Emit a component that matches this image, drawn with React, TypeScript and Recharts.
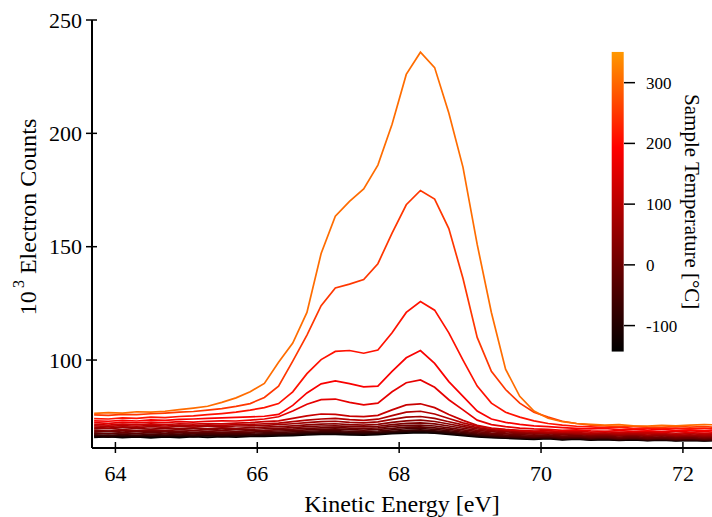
import React from "react";
import { LineChart, Line, XAxis, YAxis, BarChart, Bar } from "recharts";

const FONT = '"Liberation Serif", "DejaVu Serif", serif';

// kinetic energy grid [eV]
const energy = [
  63.7, 63.9, 64.1, 64.3, 64.5, 64.7, 64.9, 65.1, 65.3, 65.5, 65.7, 65.9, 66.1, 66.3, 66.5,
  66.7, 66.9, 67.1, 67.3, 67.5, 67.7, 67.9, 68.1, 68.3, 68.5, 68.7, 68.9, 69.1, 69.3, 69.5,
  69.7, 69.9, 70.1, 70.3, 70.5, 70.7, 70.9, 71.1, 71.3, 71.5, 71.7, 71.9, 72.1, 72.3, 72.5,
];

// 10^3 electron counts, one array per sample temperature
const counts305 = [
  76.5, 76.8, 76.6, 77.2, 77.0, 77.4, 78.1, 78.8, 79.6, 81.3, 83.3, 86.0, 89.7, 99.0, 107.5,
  121.0, 147.0, 163.5, 170.0, 175.5, 186.0, 204.0, 226.0, 235.8, 229.0, 209.0, 185.0, 151.0, 121.0, 96.0,
  84.0, 77.5, 74.3, 72.8, 72.0, 71.6, 71.3, 71.5, 71.0, 70.9, 71.2, 71.0, 71.3, 71.5, 71.4,
];
const counts250 = [
  75.8, 75.6, 76.0, 75.9, 76.3, 76.6, 77.0, 77.3, 77.9, 78.6, 79.6, 80.8, 83.5, 88.5, 99.5,
  111.0, 124.0, 131.8, 133.5, 135.5, 142.5, 156.0, 168.5, 174.8, 171.0, 158.0, 136.0, 110.0, 95.0, 87.0,
  81.0, 77.0, 74.8, 73.0, 72.0, 71.3, 70.9, 70.6, 70.9, 70.5, 70.3, 70.7, 70.4, 70.6, 70.2,
];
const counts210 = [
  74.2, 74.0, 74.5, 74.3, 74.8, 74.6, 75.1, 75.4, 75.9, 76.4, 77.0, 77.9, 79.0, 80.8, 86.0,
  94.0, 100.2, 103.8, 104.2, 103.0, 104.4, 112.0, 121.0, 125.8, 122.0, 112.0, 100.0, 88.5, 81.0, 77.0,
  74.8, 73.2, 72.0, 71.3, 70.8, 70.5, 70.2, 70.4, 69.9, 70.1, 69.8, 70.0, 69.6, 69.9, 69.5,
];
const counts185 = [
  73.2, 73.0, 73.4, 73.1, 73.6, 73.4, 73.8, 74.0, 74.3, 74.5, 74.7, 74.9, 75.2, 76.0, 80.0,
  85.5, 89.5, 90.8, 89.6, 88.2, 88.5, 95.0, 101.0, 104.2, 98.5, 90.5, 84.0, 77.5, 74.0, 72.5,
  71.6, 71.0, 70.6, 70.2, 69.9, 69.6, 69.8, 69.3, 69.5, 69.1, 69.4, 69.0, 69.2, 68.8, 69.1,
];
const counts160 = [
  72.4, 72.1, 72.5, 72.3, 72.6, 72.4, 72.8, 72.6, 73.0, 73.2, 73.1, 73.5, 74.0, 75.0, 77.5,
  80.5, 82.5, 82.8, 81.3, 80.2, 81.0, 86.0, 90.0, 91.2, 88.0, 82.5, 78.0, 73.5, 71.5, 70.6,
  70.0, 69.6, 69.4, 69.0, 69.2, 68.8, 68.6, 68.9, 68.5, 68.7, 68.3, 68.6, 68.2, 68.4, 68.1,
];
const counts120 = [
  71.6, 71.3, 71.7, 71.4, 71.8, 71.5, 71.9, 71.7, 72.0, 71.8, 72.2, 72.4, 72.8, 73.2, 74.3,
  75.4, 76.2, 76.0, 75.3, 75.0, 75.6, 78.0, 80.2, 80.7, 79.0, 76.0, 73.4, 71.2, 70.0, 69.4,
  69.0, 68.7, 68.9, 68.4, 68.6, 68.2, 68.4, 68.0, 68.3, 67.9, 68.1, 67.7, 68.0, 67.6, 67.8,
];
const counts90 = [
  71.0, 70.7, 71.1, 70.8, 71.2, 70.9, 71.3, 71.0, 71.4, 71.2, 71.5, 71.6, 71.9, 72.2, 72.8,
  73.5, 74.0, 74.3, 73.7, 73.4, 73.9, 75.5, 77.0, 77.4, 76.2, 74.2, 72.3, 70.8, 69.8, 69.2,
  68.8, 68.5, 68.2, 68.4, 68.0, 67.7, 67.9, 67.5, 67.8, 67.4, 67.6, 67.2, 67.5, 67.1, 67.3,
];
const counts65 = [
  70.3, 70.0, 70.5, 70.2, 70.6, 70.3, 70.7, 70.4, 70.8, 70.5, 70.9, 71.0, 71.2, 71.5, 71.9,
  72.4, 72.8, 73.0, 72.5, 72.3, 72.7, 73.8, 74.8, 75.1, 74.3, 72.8, 71.4, 70.2, 69.3, 68.8,
  68.4, 68.1, 67.8, 68.0, 67.5, 67.3, 67.6, 67.1, 67.4, 66.9, 67.2, 66.8, 67.0, 66.6, 66.9,
];
const counts40 = [
  69.6, 69.9, 69.4, 69.8, 69.5, 69.9, 69.6, 70.0, 69.7, 70.1, 69.9, 70.2, 70.4, 70.6, 71.0,
  71.4, 71.7, 71.9, 71.5, 71.3, 71.6, 72.5, 73.2, 73.5, 72.9, 71.8, 70.6, 69.6, 68.9, 68.4,
  68.0, 67.7, 67.9, 67.4, 67.6, 67.1, 67.3, 66.8, 67.1, 66.6, 66.9, 66.4, 66.7, 66.3, 66.5,
];
const counts20 = [
  69.0, 68.7, 69.1, 68.8, 69.2, 68.9, 69.3, 69.0, 69.4, 69.1, 69.5, 69.4, 69.7, 69.9, 70.2,
  70.6, 70.9, 71.0, 70.7, 70.5, 70.8, 71.5, 72.1, 72.3, 71.8, 70.9, 69.9, 69.0, 68.4, 67.9,
  67.6, 67.3, 67.5, 67.0, 67.2, 66.8, 67.0, 66.5, 66.8, 66.3, 66.6, 66.1, 66.4, 65.9, 66.2,
];
const counts0 = [
  68.4, 68.7, 68.2, 68.6, 68.3, 68.7, 68.4, 68.8, 68.5, 68.9, 68.6, 68.9, 69.0, 69.3, 69.5,
  69.9, 70.1, 70.3, 70.0, 69.8, 70.1, 70.7, 71.2, 71.3, 70.9, 70.1, 69.2, 68.4, 67.8, 67.4,
  67.1, 66.8, 67.0, 66.5, 66.7, 66.3, 66.5, 66.0, 66.3, 65.8, 66.1, 65.7, 65.9, 65.5, 65.8,
];
const countsM20 = [
  67.9, 67.6, 68.0, 67.7, 68.1, 67.8, 68.2, 67.9, 68.3, 68.0, 68.3, 68.2, 68.5, 68.7, 68.9,
  69.2, 69.4, 69.6, 69.3, 69.1, 69.4, 69.9, 70.4, 70.5, 70.1, 69.4, 68.6, 67.9, 67.3, 66.9,
  66.6, 66.3, 66.6, 66.1, 66.3, 65.9, 66.1, 65.6, 65.9, 65.4, 65.7, 65.3, 65.6, 65.2, 65.4,
];
const countsM45 = [
  67.4, 67.7, 67.3, 67.6, 67.2, 67.6, 67.3, 67.7, 67.4, 67.8, 67.5, 67.8, 67.9, 68.1, 68.3,
  68.6, 68.8, 68.9, 68.6, 68.5, 68.7, 69.2, 69.7, 69.8, 69.4, 68.8, 68.1, 67.4, 66.9, 66.5,
  66.2, 66.0, 66.2, 65.7, 66.0, 65.5, 65.8, 65.3, 65.6, 65.1, 65.4, 65.0, 65.3, 64.9, 65.1,
];
const countsM70 = [
  67.0, 66.7, 67.1, 66.8, 67.2, 66.9, 67.2, 66.9, 67.3, 67.0, 67.3, 67.2, 67.4, 67.6, 67.8,
  68.1, 68.3, 68.4, 68.1, 68.0, 68.2, 68.6, 69.0, 69.2, 68.8, 68.3, 67.6, 67.0, 66.5, 66.1,
  65.9, 65.7, 65.9, 65.4, 65.7, 65.2, 65.5, 65.0, 65.3, 64.9, 65.2, 64.8, 65.0, 64.7, 64.9,
];
const countsM95 = [
  66.6, 66.9, 66.5, 66.8, 66.4, 66.8, 66.5, 66.9, 66.6, 66.9, 66.7, 67.0, 67.1, 67.2, 67.4,
  67.7, 67.9, 68.0, 67.7, 67.6, 67.8, 68.2, 68.6, 68.8, 68.4, 67.9, 67.3, 66.7, 66.3, 66.0,
  65.7, 65.5, 65.7, 65.2, 65.5, 65.1, 65.3, 64.9, 65.2, 64.8, 65.0, 64.6, 64.9, 64.6, 64.8,
];
const countsM115 = [
  66.3, 66.0, 66.4, 66.1, 66.5, 66.2, 66.5, 66.2, 66.6, 66.3, 66.6, 66.5, 66.7, 66.9, 67.1,
  67.3, 67.5, 67.6, 67.4, 67.2, 67.5, 67.9, 68.2, 68.4, 68.0, 67.5, 67.0, 66.4, 66.0, 65.7,
  65.5, 65.3, 65.5, 65.0, 65.3, 64.9, 65.1, 64.7, 65.0, 64.6, 64.9, 64.5, 64.7, 64.4, 64.6,
];
const countsM135 = [
  65.9, 66.2, 65.8, 66.1, 65.7, 66.1, 65.8, 66.2, 65.9, 66.2, 66.0, 66.3, 66.3, 66.5, 66.7,
  67.0, 67.2, 67.2, 67.0, 66.9, 67.1, 67.5, 67.8, 68.0, 67.7, 67.2, 66.7, 66.1, 65.8, 65.5,
  65.2, 65.0, 65.3, 64.8, 65.1, 64.7, 64.9, 64.5, 64.8, 64.4, 64.7, 64.3, 64.6, 64.3, 64.5,
];

// coldest first so the hot spectra sit on top
const spectra = [
  { temp: -135, values: countsM135 },
  { temp: -115, values: countsM115 },
  { temp: -95, values: countsM95 },
  { temp: -70, values: countsM70 },
  { temp: -45, values: countsM45 },
  { temp: -20, values: countsM20 },
  { temp: 0, values: counts0 },
  { temp: 20, values: counts20 },
  { temp: 40, values: counts40 },
  { temp: 65, values: counts65 },
  { temp: 90, values: counts90 },
  { temp: 120, values: counts120 },
  { temp: 160, values: counts160 },
  { temp: 185, values: counts185 },
  { temp: 210, values: counts210 },
  { temp: 250, values: counts250 },
  { temp: 305, values: counts305 },
];

const xTicks = [64, 66, 68, 70, 72];
const yTicks = [100, 150, 200, 250];
const tempTicks = [-100, 0, 100, 200, 300];
const TEMP_MIN = -143;
const TEMP_MAX = 351;

// black -> red -> orange
function tempColor(t: number) {
  const f = (t - TEMP_MIN) / (TEMP_MAX - TEMP_MIN);
  if (f <= 0.68) {
    const r = Math.round((f / 0.68) * 255);
    return `rgb(${r},0,0)`;
  }
  const g = Math.round(((f - 0.68) / 0.32) * 0.6 * 255);
  return `rgb(255,${g},0)`;
}

const chartData = energy.map((e, i) => {
  const row: Record<string, number> = { e };
  spectra.forEach((s) => {
    row[`t${s.temp}`] = s.values[i];
  });
  return row;
});

// the colorbar is a single range bar spanning the temperature scale
const colorbarData = [{ name: "T", range: [TEMP_MIN, TEMP_MAX] }];

function XTick({ x, y, payload }: any) {
  return (
    <g>
      <line x1={x} x2={x} y1={y - 6} y2={y + 5} stroke="#000" strokeWidth={1.5} />
      <text x={x} y={y + 33} textAnchor="middle" fontSize={22} fontFamily={FONT} fill="#000">
        {payload.value}
      </text>
    </g>
  );
}

function YTick({ x, y, payload }: any) {
  return (
    <g>
      <line x1={x - 6} x2={x + 5} y1={y} y2={y} stroke="#000" strokeWidth={1.5} />
      <text x={x - 10} y={y + 7.5} textAnchor="end" fontSize={22} fontFamily={FONT} fill="#000">
        {payload.value}
      </text>
    </g>
  );
}

function TempTick({ x, y, payload }: any) {
  return (
    <g>
      <line x1={x} x2={x + 11} y1={y} y2={y} stroke="#000" strokeWidth={1.5} />
      <text x={x + 22} y={y + 6} textAnchor="start" fontSize={17} fontFamily={FONT} fill="#000">
        {payload.value}
      </text>
    </g>
  );
}

function CountsLabel({ viewBox }: any) {
  const cx = viewBox.x + 36;
  const cy = 217;
  return (
    <text
      x={cx}
      y={cy}
      transform={`rotate(-90 ${cx} ${cy})`}
      textAnchor="middle"
      fontSize={24}
      fontFamily={FONT}
      fill="#000"
    >
      10
      <tspan dy={-12} fontSize={16}>
        {"\u2009"}3
      </tspan>
      <tspan dy={12}> Electron Counts</tspan>
    </text>
  );
}

function TempLabel({ viewBox }: any) {
  const cx = viewBox.x + 61;
  const cy = viewBox.y + viewBox.height / 2;
  return (
    <text
      x={cx}
      y={cy}
      transform={`rotate(90 ${cx} ${cy})`}
      textAnchor="middle"
      fontSize={21}
      fontFamily={FONT}
      fill="#000"
    >
      Sample Temperature [°C]
    </text>
  );
}

function Colorbar() {
  return (
    <BarChart
      width={112}
      height={330}
      data={colorbarData}
      barCategoryGap={0}
      margin={{ top: 11.7, right: 0, bottom: 18.3, left: 11.7 }}
    >
      <defs>
        <linearGradient id="cbGrad" x1="0" y1="0" x2="0" y2="1">
          <stop offset="0" stopColor="#ff9900" />
          <stop offset="0.32" stopColor="#ff0000" />
          <stop offset="1" stopColor="#000000" />
        </linearGradient>
      </defs>
      <XAxis dataKey="name" type="category" hide />
      <YAxis
        orientation="right"
        type="number"
        domain={[TEMP_MIN, TEMP_MAX]}
        allowDataOverflow
        ticks={tempTicks}
        width={88}
        axisLine={false}
        tickLine={false}
        tickSize={0}
        tickMargin={0}
        tick={<TempTick />}
        label={(props: any) => <TempLabel {...props} />}
      />
      <Bar dataKey="range" fill="url(#cbGrad)" isAnimationActive={false} />
    </BarChart>
  );
}

export default function App() {
  return (
    <div style={{ position: "absolute", left: 0, top: 0, width: 712, height: 517, background: "#fff" }}>
      <LineChart
        width={712}
        height={517}
        data={chartData}
        margin={{ top: 20, right: 0, bottom: 0, left: 0 }}
      >
        <XAxis
          dataKey="e"
          type="number"
          domain={[63.67, 72.41]}
          allowDataOverflow
          ticks={xTicks}
          height={69}
          axisLine={{ stroke: "#000", strokeWidth: 2 }}
          tickLine={false}
          tickSize={0}
          tickMargin={0}
          tick={<XTick />}
          label={{
            value: "Kinetic Energy [eV]",
            position: "insideBottom",
            offset: 5,
            fontSize: 24,
            fontFamily: FONT,
            fill: "#000",
          }}
        />
        <YAxis
          type="number"
          domain={[61.2, 250]}
          allowDataOverflow
          ticks={yTicks}
          width={92}
          axisLine={{ stroke: "#000", strokeWidth: 2 }}
          tickLine={false}
          tickSize={0}
          tickMargin={0}
          tick={<YTick />}
          label={(props: any) => <CountsLabel {...props} />}
        />
        {spectra.map((s) => (
          <Line
            key={s.temp}
            dataKey={`t${s.temp}`}
            type="linear"
            stroke={tempColor(s.temp)}
            strokeWidth={1.7}
            dot={false}
            isAnimationActive={false}
          />
        ))}
      </LineChart>
      <div style={{ position: "absolute", left: 600, top: 40 }}>
        <Colorbar />
      </div>
    </div>
  );
}
